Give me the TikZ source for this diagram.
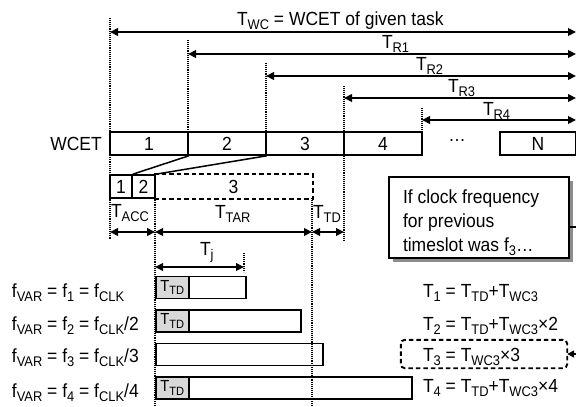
\documentclass[tikz,border=0pt]{standalone}
\usepackage{fontspec}
\setmainfont{Liberation Sans}[FakeStretch=0.92]
\usetikzlibrary{arrows.meta,shadows}
\newcommand\Sb[1]{\raisebox{-0.45ex}{\fontsize{14}{14}\selectfont #1}}
\newcommand\Sbs[1]{\raisebox{-0.45ex}{\fontsize{12}{12}\selectfont #1}}
\begin{document}
\begin{tikzpicture}[x=1pt,y=-1pt,
  txt/.style={font=\fontsize{19}{22}\selectfont, inner sep=0pt, outer sep=0pt},
  cell/.style={draw, line width=1.6pt, inner sep=0pt, minimum height=23pt, font=\fontsize{19}{22}\selectfont},
  dotl/.style={line width=1.8pt, dash pattern=on 1pt off 0.9pt},
  dim/.style={line width=2.1pt, {Triangle[length=8pt,width=7.5pt]}-{Triangle[length=8pt,width=7.5pt]}},
  conn/.style={line width=1.5pt, -{Triangle[length=7pt,width=7pt]}},
  bar/.style={draw, line width=1.6pt, minimum height=22pt, inner sep=0pt, anchor=west},
  tdcell/.style={bar, fill=black!15, font=\fontsize{16}{17}\selectfont},
  dashb/.style={line width=1.9pt, dash pattern=on 4.5pt off 3pt}
]
\useasboundingbox (0,0) rectangle (576,407);

% WCET row
\node[txt] (wl) at (76,143.5) {WCET};
\node[cell, minimum width=78pt] (w1) at (149,143.5) {1};
\node[cell, minimum width=78pt] (w2) at (227,143.5) {2};
\node[cell, minimum width=78pt] (w3) at (305,143.5) {3};
\node[cell, minimum width=78pt] (w4) at (383,143.5) {4};
\node[txt] (wd) at (457,140) {…};
\node[cell, minimum width=76pt] (wN) at (538,143.5) {N};

% sub row
\node[cell, minimum width=22pt] (s1) at (121,186.5) {1};
\node[cell, minimum width=23pt] (s2) at (143.5,186.5) {2};
\node[cell, draw=none, minimum width=157pt] (s3) at (233.5,186.5) {3};
\draw[dashb] (s3.north west) -- (s3.north east) -- (s3.south east) -- (s3.south west);
\draw[line width=1.5pt] (w1.south east) -- (s1.north east);
\draw[line width=1.5pt] (w2.south east) -- (s2.north east);

% vertical dotted lines
\coordinate (v0a) at (110,18);   \coordinate (v0b) at (110,240);
\coordinate (v1a) at (188,40);   \coordinate (v1b) at (188,132);
\coordinate (v2a) at (266,63);   \coordinate (v2b) at (266,132);
\coordinate (v3a) at (344,86);   \coordinate (v3b) at (344,240);
\coordinate (v4a) at (422,108);  \coordinate (v4b) at (422,132);
\coordinate (v5a) at (155,175);  \coordinate (v5b) at (155,407);
\coordinate (v6a) at (312,198);  \coordinate (v6b) at (312,407);
\coordinate (v7a) at (244,253);  \coordinate (v7b) at (244,272);
\foreach \i in {0,...,7} {\draw[dotl] (v\i a) -- (v\i b);}

% dimension arrows (top)
\coordinate (a0) at (110,32);  \coordinate (e0) at (576,32);
\coordinate (a1) at (188,54);  \coordinate (e1) at (576,54);
\coordinate (a2) at (266,76);  \coordinate (e2) at (576,76);
\coordinate (a3) at (344,98);  \coordinate (e3) at (576,98);
\coordinate (a4) at (422,120); \coordinate (e4) at (576,120);
\foreach \i in {0,...,4} {\draw[dim] (a\i) -- (e\i);}

\node[txt, anchor=base west] (lwc) at (237,25) {T\Sb{WC} = WCET of given task};
\node[txt, anchor=base west] (lr1) at (382,48) {T\Sb{R1}};
\node[txt, anchor=base west] (lr2) at (416,70) {T\Sb{R2}};
\node[txt, anchor=base west] (lr3) at (448,92) {T\Sb{R3}};
\node[txt, anchor=base west] (lr4) at (483,115) {T\Sb{R4}};

% lower dimension arrows
\coordinate (b0) at (110,232); \coordinate (b1) at (155,232);
\coordinate (b2) at (312,232); \coordinate (b3) at (344,232);
\coordinate (j0) at (155,267); \coordinate (j1) at (244,267);
\draw[dim] (b0) -- (b1);
\draw[dim] (b1) -- (b2);
\draw[dim] (b2) -- (b3);
\draw[dim] (j0) -- (j1);
\node[txt, anchor=base west] (lacc) at (111,217) {T\Sb{ACC}};
\node[txt, anchor=base west] (ltar) at (215,218) {T\Sb{TAR}};
\node[txt, anchor=base west] (ltd) at (313,218) {T\Sb{TD}};
\node[txt, anchor=base west] (lj) at (200,255) {T\Sb{j}};

% note box
\node[draw, fill=white, line width=1.5pt, minimum width=180pt, minimum height=81pt,
      drop shadow={shadow xshift=4pt, shadow yshift=-4pt, fill=black!45, opacity=1}] (q) at (479,217.5) {};
\node[txt, anchor=base west] (q1) at (403,203) {If clock frequency};
\node[txt, anchor=base west] (q2) at (403,227) {for previous};
\node[txt, anchor=base west] (q3) at (403,251) {timeslot was f\Sb{3}…};

% bars
\node[tdcell, minimum width=33pt] (g1) at (155,287.5) {T\Sbs{TD}};
\node[bar, minimum width=57pt] (r1) at (188,287.5) {};
\node[tdcell, minimum width=33pt] (g2) at (155,321) {T\Sbs{TD}};
\node[bar, minimum width=112pt] (r2) at (188,321) {};
\node[bar, minimum width=167pt] (r3) at (155,354.5) {};
\node[tdcell, minimum width=33pt] (g4) at (155,388) {T\Sbs{TD}};
\node[bar, minimum width=223pt] (r4) at (188,388) {};

% left labels
\node[txt, anchor=base west] (f1) at (12,297) {f\Sb{VAR} = f\Sb{1} = f\Sb{CLK}};
\node[txt, anchor=base west] (f2) at (12,330) {f\Sb{VAR} = f\Sb{2} = f\Sb{CLK}/2};
\node[txt, anchor=base west] (f3) at (12,362) {f\Sb{VAR} = f\Sb{3} = f\Sb{CLK}/3};
\node[txt, anchor=base west] (f4) at (12,397) {f\Sb{VAR} = f\Sb{4} = f\Sb{CLK}/4};

% right equations
\node[txt, anchor=base west] (t1) at (423,297) {T\Sb{1} = T\Sb{TD}+T\Sb{WC3}};
\node[txt, anchor=base west] (t2) at (423,330) {T\Sb{2} = T\Sb{TD}+T\Sb{WC3}×2};
\node[txt, anchor=base west] (t3) at (423,361) {T\Sb{3} = T\Sb{WC3}×3};
\node[txt, anchor=base west] (t4) at (423,392) {T\Sb{4} = T\Sb{TD}+T\Sb{WC3}×4};
\node[draw=none, minimum width=166pt, minimum height=28pt, inner sep=0pt] (eb) at (484,354) {};
\draw[dashb, rounded corners=4pt] (eb.north west) rectangle (eb.south east);

% connector
\draw[conn] ([yshift=-9.5pt]q.east) -- ++(8,0) |- (eb.east);
\end{tikzpicture}
\end{document}
